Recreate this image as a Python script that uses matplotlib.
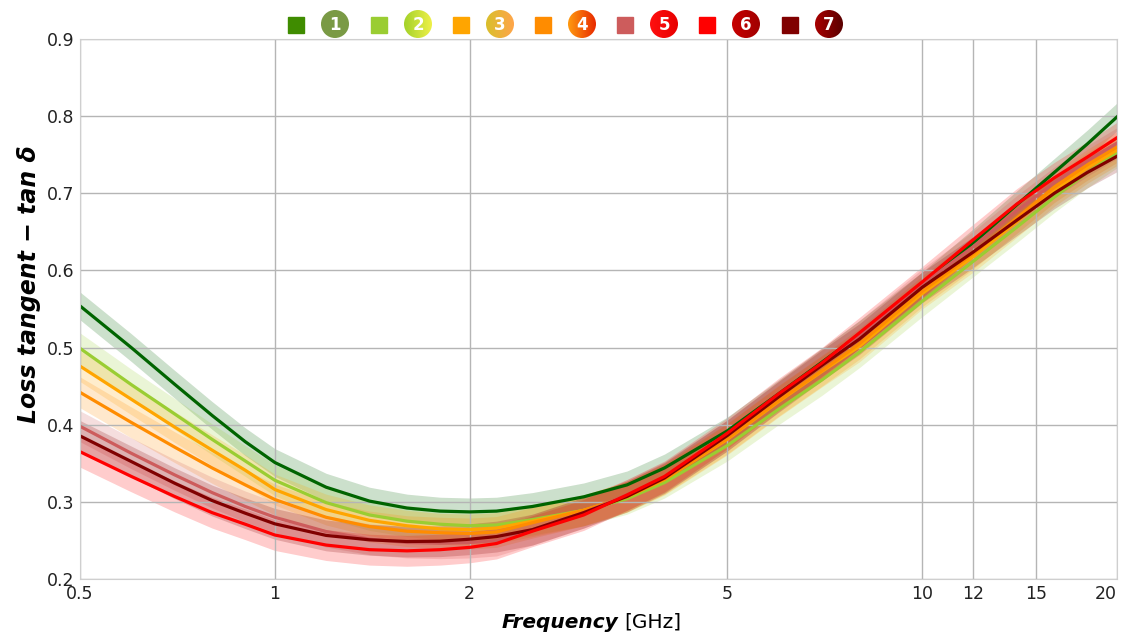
import numpy as np
import matplotlib.pyplot as plt
from matplotlib.patches import Circle, Rectangle
from matplotlib.colors import LinearSegmentedColormap

# frequencies [GHz] at which the curves were read
freq = [0.5, 0.6, 0.7, 0.8, 0.9, 1.0, 1.2, 1.4, 1.6, 1.8, 2.0, 2.2, 2.5,
        3, 3.5, 4, 5, 6, 7, 8, 10, 12, 14, 16, 18, 20]

s1 = [0.554, 0.500, 0.4525, 0.412, 0.378, 0.351, 0.319, 0.301, 0.292, 0.288, 0.287, 0.288, 0.294,
      0.3065, 0.322, 0.344, 0.392, 0.440, 0.481, 0.517, 0.580, 0.636, 0.685, 0.727, 0.764, 0.799]
s2 = [0.499, 0.452, 0.414, 0.381, 0.353, 0.328, 0.299, 0.283, 0.275, 0.271, 0.269, 0.270, 0.277,
      0.289, 0.304, 0.325, 0.373, 0.420, 0.458, 0.494, 0.560, 0.612, 0.656, 0.695, 0.727, 0.753]
s3 = [0.476, 0.433, 0.397, 0.367, 0.341, 0.316, 0.290, 0.276, 0.269, 0.265, 0.264, 0.266, 0.275,
      0.289, 0.3065, 0.329, 0.381, 0.430, 0.469, 0.5015, 0.570, 0.618, 0.663, 0.703, 0.733, 0.756]
s4 = [0.442, 0.403, 0.371, 0.344, 0.322, 0.303, 0.280, 0.268, 0.262, 0.260, 0.259, 0.261, 0.273,
      0.289, 0.307, 0.330, 0.382, 0.431, 0.470, 0.505, 0.573, 0.622, 0.668, 0.708, 0.737, 0.760]
s5 = [0.398, 0.363, 0.335, 0.312, 0.294, 0.280, 0.2615, 0.2516, 0.2473, 0.2464, 0.2473, 0.2499, 0.264,
      0.286, 0.309, 0.332, 0.386, 0.437, 0.479, 0.515, 0.582, 0.631, 0.677, 0.714, 0.742, 0.765]
s6 = [0.365, 0.333, 0.307, 0.286, 0.271, 0.257, 0.244, 0.238, 0.2365, 0.238, 0.241, 0.246, 0.262,
      0.283, 0.309, 0.333, 0.389, 0.440, 0.480, 0.519, 0.585, 0.640, 0.686, 0.720, 0.747, 0.772]
s7 = [0.3855, 0.3523, 0.3242, 0.3017, 0.2853, 0.2715, 0.2565, 0.2508, 0.2486, 0.249, 0.2516, 0.255, 0.264,
      0.286, 0.307, 0.331, 0.386, 0.436, 0.477, 0.511, 0.578, 0.624, 0.665, 0.700, 0.727, 0.748]

# half width of the shaded band around each curve
spread = [0.018, 0.02, 0.02, 0.02, 0.02, 0.02, 0.02]

series = [s1, s2, s3, s4, s5, s6, s7]
line_cols = ['#006400', '#9acd32', '#ffa500', '#ff8c00', '#cd5c5c', '#ff0000', '#800000']
labels = ['1', '2', '3', '4', '5', '6', '7']
square_cols = ['#3f8c00', '#9acd32', '#ffa500', '#ff8c00', '#cd5c5c', '#ff0000', '#800000']
circle_grad = [('#7a9a45', '#7a9a45'), ('#a4d22a', '#eef048'), ('#d9bf2c', '#ffa54a'),
               ('#ff9a10', '#e82a00'), ('#ff1010', '#e80000'), ('#c80000', '#a00000'),
               ('#a80000', '#5a0000')]
# drawing order of the lines (red ends up on top)
draw_order = [0, 1, 2, 3, 4, 6, 5]

xticks = [0.5, 1, 2, 5, 10, 12, 15, 20]
yticks = [0.2, 0.3, 0.4, 0.5, 0.6, 0.7, 0.8, 0.9]

fig = plt.figure(figsize=(11.24, 6.35), dpi=100)
ax = fig.add_axes([80/1124, 1 - 579/635, 1037/1124, 540/635])

f = np.array(freq)
for vals, c, w in zip(series, line_cols, spread):
    v = np.array(vals)
    ax.fill_between(f, v - w, v + w, color=c, alpha=0.2, linewidth=0)
for i in draw_order:
    ax.plot(f, series[i], color=line_cols[i], linewidth=2.3, solid_joinstyle='round')

ax.set_xscale('log')
ax.set_xlim(0.5, 20)
ax.set_ylim(0.2, 0.9)
ax.set_xticks(xticks)
ax.set_xticklabels([('%g' % t) for t in xticks])
ax.xaxis.set_minor_locator(plt.NullLocator())
ax.set_yticks(yticks)
ax.set_yticklabels([('%.1f' % t) for t in yticks])
ax.tick_params(length=0, labelsize=12.5, colors='#222222', pad=4)
ax.get_xticklabels()[-1].set_horizontalalignment('right')
ax.grid(True, color='#b5b5b5', linewidth=1)
for sp in ax.spines.values():
    sp.set_color('#cfcfcf')

fig.text(29/1124, 1 - 284/635, 'Loss tangent \u2212 tan \u03b4', rotation=90,
         fontsize=17, fontweight='bold', fontstyle='italic', ha='center', va='center')
fig.text(618/1124, 1 - 622/635, 'Frequency', fontsize=14.5, fontweight='bold',
         fontstyle='italic', ha='right', va='center')
fig.text(624/1124, 1 - 622/635, '[GHz]', fontsize=14.5, ha='left', va='center')

# legend strip across the top, drawn in pixel units
lax = fig.add_axes([0, 0, 1, 1])
lax.set_xlim(0, 1124)
lax.set_ylim(635, 0)
lax.axis('off')
sq_x = [296, 379, 461, 543, 625, 707, 790]
ci_x = [335, 418, 500, 582, 664, 746, 829]
grad = np.linspace(0, 1, 64).reshape(1, -1)
for i in range(7):
    lax.add_patch(Rectangle((sq_x[i] - 8, 25 - 8), 16, 16, color=square_cols[i]))
    cmap = LinearSegmentedColormap.from_list('g%d' % i, circle_grad[i])
    r = 14
    im = lax.imshow(grad, cmap=cmap, extent=[ci_x[i] - r, ci_x[i] + r, 24 + r, 24 - r],
                    aspect='auto', zorder=3)
    clip = Circle((ci_x[i], 24), r, transform=lax.transData)
    im.set_clip_path(clip)
    lax.text(ci_x[i], 25, labels[i], color='white', fontsize=12, fontweight='bold',
             ha='center', va='center', zorder=4)
lax.set_xlim(0, 1124)
lax.set_ylim(635, 0)

fig.savefig('out.png', dpi=100)
